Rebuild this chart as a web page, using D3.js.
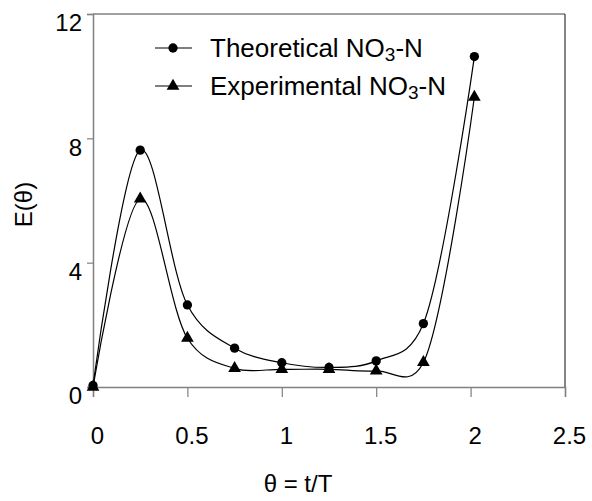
<!DOCTYPE html>
<html>
  <head>
    <meta charset="UTF-8" />
    <title>E(theta) curve</title>
    <script src="https://d3js.org/d3.v7.min.js"></script>
    <style>
      body { margin: 0; background: #fff; }
      svg text { font-family: "Liberation Sans", Arial, sans-serif; fill: #000; }
    </style>
  </head>
  <body>
    <div id="chart"></div>
    <script>
      // theta values (t/T)
      var theta = [0, 0.25, 0.5, 0.75, 1, 1.25, 1.5, 1.75, 2.02];
      // E(theta) for each series
      var theoretical = [0.05, 7.62, 2.64, 1.25, 0.78, 0.63, 0.84, 2.04, 10.63];
      var experimental = [0.0, 6.05, 1.57, 0.6, 0.57, 0.57, 0.52, 0.79, 9.33];
      var xTicks = [0, 0.5, 1, 1.5, 2, 2.5];
      var yTicks = [0, 4, 8, 12];

      var W = 592, H = 501;
      var margin = { top: 14, right: 27, bottom: 114, left: 93 },
        width = W - margin.left - margin.right,
        height = H - margin.top - margin.bottom;

      var svg = d3.select("#chart").append("svg")
        .attr("width", W).attr("height", H);
      var g = svg.append("g")
        .attr("transform", "translate(" + margin.left + "," + margin.top + ")");

      var x = d3.scaleLinear().domain([0, 2.5]).range([0, width]);
      var y = d3.scaleLinear().domain([0, 12]).range([height, 0]);

      // frame top and right
      g.append("line").attr("x1", 0).attr("x2", width).attr("y1", 0).attr("y2", 0)
        .attr("stroke", "#808080").attr("stroke-width", 1.5);
      g.append("line").attr("x1", width).attr("x2", width).attr("y1", 0).attr("y2", height)
        .attr("stroke", "#333").attr("stroke-width", 1.2);

      // axes
      var xAxis = g.append("g").attr("transform", "translate(0," + height + ")")
        .call(d3.axisBottom(x).tickValues(xTicks).tickSize(10).tickPadding(30)
          .tickFormat(d3.format("")));
      var yAxis = g.append("g")
        .call(d3.axisLeft(y).tickValues(yTicks).tickSize(6).tickPadding(5));
      [xAxis, yAxis].forEach(function (a) {
        a.select(".domain").attr("stroke", "#808080").attr("stroke-width", 1.5);
        a.selectAll(".tick line").attr("stroke", "#808080").attr("stroke-width", 1.2);
        a.selectAll(".tick text").style("font-size", "24px")
          .style("font-family", "Liberation Sans, Arial, sans-serif").attr("fill", "#000");
      });
      xAxis.selectAll(".tick text").attr("dx", 4);
      yAxis.selectAll(".tick text").attr("dy", "0.7em");

      // axis titles
      svg.append("text").attr("x", 298).attr("y", 492)
        .attr("text-anchor", "middle").style("font-size", "24px").text("\u03b8 = t/T");
      svg.append("text")
        .attr("transform", "translate(32," + (margin.top + height / 2 + 4) + ") rotate(-90)")
        .attr("text-anchor", "middle").style("font-size", "24px").text("E(\u03b8)");

      var line = d3.line()
        .x(function (d) { return x(d[0]); })
        .y(function (d) { return y(d[1]); })
        .curve(d3.curveCatmullRom.alpha(0.2));

      var series = [
        { name: "Theoretical", vals: theoretical, sym: d3.symbolCircle, size: 68 },
        { name: "Experimental", vals: experimental, sym: d3.symbolTriangle, size: 70 }
      ];

      series.forEach(function (s) {
        var pts = theta.map(function (t, i) { return [t, s.vals[i]]; });
        g.append("path").datum(pts).attr("d", line)
          .attr("fill", "none").attr("stroke", "#000").attr("stroke-width", 1.2);
        g.selectAll(null).data(pts).enter().append("path")
          .attr("d", d3.symbol().type(s.sym).size(s.size))
          .attr("transform", function (d) { return "translate(" + x(d[0]) + "," + y(d[1]) + ")"; })
          .attr("fill", "#000");
      });

      // legend
      var legend = svg.append("g");
      series.forEach(function (s, i) {
        var ly = 48 + i * 38;
        legend.append("line").attr("x1", 155).attr("x2", 192).attr("y1", ly).attr("y2", ly)
          .attr("stroke", "#000").attr("stroke-width", 1.2);
        legend.append("path").attr("d", d3.symbol().type(s.sym).size(s.size))
          .attr("transform", "translate(173," + ly + ")").attr("fill", "#000");
        var t = legend.append("text").attr("x", 210).attr("y", ly + 9).style("font-size", "26px");
        t.append("tspan").text(s.name + " NO");
        t.append("tspan").attr("dy", 4).style("font-size", "19px").text("3");
        t.append("tspan").attr("dy", -4).text("-N");
      });
    </script>
  </body>
</html>
